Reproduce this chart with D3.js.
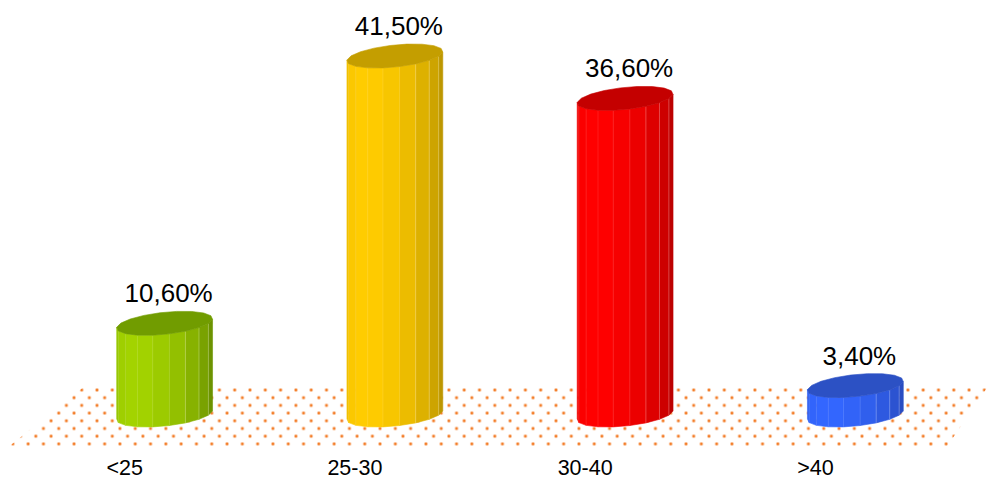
<!DOCTYPE html>
<html>
<head>
<meta charset="utf-8">
<style>
  html, body { margin: 0; padding: 0; background: #ffffff; }
  svg { display: block; }
  text { font-family: "Liberation Sans", Arial, sans-serif; fill: #000; }
</style>
<script src="https://cdn.jsdelivr.net/npm/d3@7"></script>
</head>
<body>
<svg id="chart" width="994" height="479"></svg>
<script>
// Age groups and their share (%)
const categories = ["<25", "25-30", "30-40", ">40"];
const values = [10.6, 41.5, 36.6, 3.4];

// Per-bar colours: lit side, shaded side, top cap
const sideLight = ["#a3d300", "#ffcc00", "#ff0000", "#3366ff"];
const sideDark  = ["#6c9300", "#bd9700", "#bd0000", "#2a4dc2"];
const topFill   = ["#719c00", "#c49e00", "#c40000", "#2c51c4"];

const W = 994, H = 479;
const svg = d3.select("#chart");

const x = d3.scaleBand().domain(categories).range([49.5, 970.5]);
const y = d3.scaleLinear().domain([0, 45]).range([415, 415 - 45 * 8.65]);

const fmtLocale = d3.formatLocale({ decimal: ",", thousands: ".", grouping: [3], currency: ["", ""] });
const fmt = v => fmtLocale.format(".2f")(v) + "%";

// Dotted floor
const defs = svg.append("defs");
const tw = 15.3, th = 15.4;
const pat = defs.append("pattern")
  .attr("id", "floorDots")
  .attr("patternUnits", "userSpaceOnUse")
  .attr("x", 97 % tw).attr("y", 390 % th)
  .attr("width", tw).attr("height", th);
[[0, 0], [tw, 0], [0, th], [tw, th], [tw / 2, th / 2]].forEach(([px, py]) => {
  pat.append("circle").attr("cx", px).attr("cy", py).attr("r", 1.9).attr("fill", "#f9c29a");
  pat.append("circle").attr("cx", px).attr("cy", py).attr("r", 1.2).attr("fill", "#f37d28");
});
svg.append("polygon")
  .attr("points", [[86, 385], [989, 385], [946, 448], [7, 448]].map(p => p.join(",")).join(" "))
  .attr("fill", "url(#floorDots)");

// Faceted cylinder geometry
const N = 18, rx = 48.3, ry = 11, theta = -0.105, phase = 0.1;
const cosT = Math.cos(theta), sinT = Math.sin(theta);
const tLight = Math.PI / 2 + 0.7;
function pt(cx, cy, t) {
  return [cx + rx * Math.cos(t) * cosT - ry * Math.sin(t) * sinT,
          cy + rx * Math.cos(t) * sinT + ry * Math.sin(t) * cosT];
}

const bars = svg.append("g");
categories.forEach((c, i) => {
  const cx = x(c) + x.bandwidth() / 2;
  const yb = y(0), yt = y(values[i]);
  const g = bars.append("g");

  const facets = [];
  for (let k = 0; k < N; k++) {
    const t0 = phase + 2 * Math.PI * k / N, t1 = phase + 2 * Math.PI * (k + 1) / N;
    const a = pt(cx, yt, t0), b = pt(cx, yt, t1);
    let nx = b[1] - a[1], ny = -(b[0] - a[0]);
    const mx = (a[0] + b[0]) / 2 - cx, my = (a[1] + b[1]) / 2 - yt;
    if (nx * mx + ny * my < 0) { nx = -nx; ny = -ny; }
    if (ny > 0) facets.push({ t0, t1, light: Math.cos((t0 + t1) / 2 - tLight) });
  }
  const lo = d3.min(facets, f => f.light), hi = d3.max(facets, f => f.light);
  const shade = d3.interpolateRgb(sideDark[i], sideLight[i]);

  facets.forEach(f => {
    const a = pt(cx, yt, f.t0), b = pt(cx, yt, f.t1);
    const c2 = pt(cx, yb, f.t1), d = pt(cx, yb, f.t0);
    const col = shade((f.light - lo) / (hi - lo));
    g.append("polygon")
      .attr("points", [a, b, c2, d].map(p => p.join(",")).join(" "))
      .attr("fill", col).attr("stroke", col).attr("stroke-width", 0.6);
  });
  // light seams between facets, stronger on the shaded side
  facets.slice(1).forEach(f => {
    const a = pt(cx, yt, f.t0), d = pt(cx, yb, f.t0);
    const onShade = Math.cos(f.t0) > 0.1;
    g.append("line")
      .attr("x1", a[0]).attr("y1", a[1]).attr("x2", d[0]).attr("y2", d[1])
      .attr("stroke", "#ffffff").attr("stroke-opacity", onShade ? 0.25 : 0.1).attr("stroke-width", 1);
  });

  const cap = d3.range(N).map(k => pt(cx, yt, phase + 2 * Math.PI * k / N));
  g.append("polygon")
    .attr("points", cap.map(p => p.join(",")).join(" "))
    .attr("fill", topFill[i]).attr("stroke", topFill[i]).attr("stroke-width", 0.6);

  svg.append("text")
    .attr("x", cx + 4).attr("y", yt - 21)
    .attr("text-anchor", "middle")
    .attr("font-size", 26)
    .text(fmt(values[i]));

  svg.append("text")
    .attr("x", cx - 40).attr("y", 475)
    .attr("text-anchor", "middle")
    .attr("font-size", 21.5)
    .text(c);
});
</script>
</body>
</html>
